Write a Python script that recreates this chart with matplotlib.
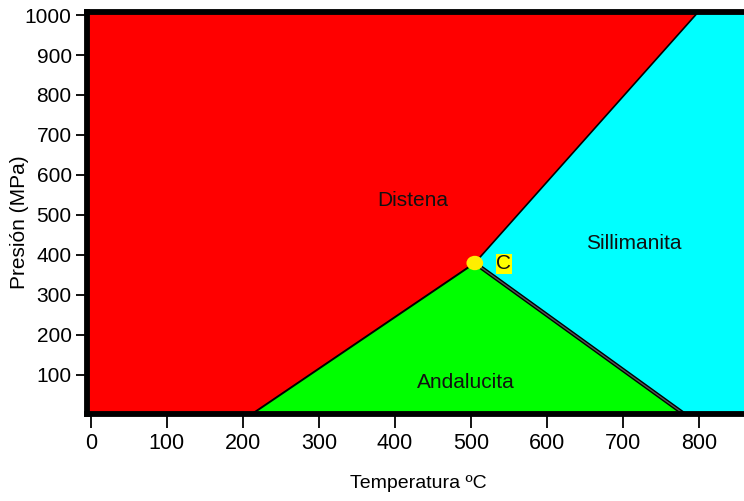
import matplotlib
matplotlib.use('Agg')
import matplotlib.pyplot as plt
from matplotlib.patches import Polygon, Ellipse

plt.rcParams['font.family'] = ['Liberation Sans', 'DejaVu Sans']

# Data (temperature in ºC, pressure in MPa)
triple_point = (505, 380)
distena_andalucita_end = (210, 0)
distena_sillimanita_end = (800, 1010)
andalucita_sillimanita_end = (782, 0)
x_ticks = [0, 100, 200, 300, 400, 500, 600, 700, 800]
y_ticks = [100, 200, 300, 400, 500, 600, 700, 800, 900, 1000]
phase_labels = ['Distena', 'Sillimanita', 'Andalucita']
phase_label_pos = [(424, 537), (714, 428), (493, 82)]
point_label = 'C'
point_label_pos = (543, 378)

W, H = 744, 501
fig = plt.figure(figsize=(W / 100, H / 100), dpi=100)
ax = fig.add_axes([87 / W, (H - 414) / H, 1 - 87 / W, (414 - 12) / H])
xmin, xmax = -5, 859
ymin, ymax = 2.5, 1007.5
ax.set_xlim(xmin, xmax)
ax.set_ylim(ymin, ymax)

lo, hi = -50, 1100
tp = triple_point
da = distena_andalucita_end
ds = distena_sillimanita_end
asl = andalucita_sillimanita_end

red = Polygon([(-50, lo), (da[0], lo), da, tp, ds, (ds[0], hi), (-50, hi)],
              closed=True, facecolor='#ff0000', edgecolor='none', zorder=1)
green = Polygon([(da[0] - 5, lo), da, tp, asl, (asl[0] + 5, lo)], closed=True,
                facecolor='#00ff00', edgecolor='none', zorder=1)
cyan = Polygon([tp, ds, (1000, hi), (1000, lo), (asl[0] + 5, lo), asl], closed=True,
               facecolor='#00ffff', edgecolor='none', zorder=1)
for p in (red, green, cyan):
    ax.add_patch(p)

ax.plot([da[0], tp[0]], [da[1], tp[1]], color='black', lw=1.4, zorder=2)
ax.plot([tp[0], ds[0]], [tp[1], ds[1]], color='black', lw=1.2, zorder=2)
ax.plot([tp[0], asl[0]], [tp[1], asl[1]], color='black', lw=3.0, zorder=2, solid_capstyle='butt')
ax.plot([tp[0], asl[0]], [tp[1], asl[1]], color='#555555', lw=1.0, zorder=2, solid_capstyle='butt')

ax.add_patch(Ellipse(tp, width=22, height=36, facecolor='#ffee00', edgecolor='none', zorder=3))

for lab, (x, y) in zip(phase_labels, phase_label_pos):
    ax.text(x, y, lab, fontsize=15, ha='center', va='center', color='#111111', zorder=4)
ax.text(point_label_pos[0], point_label_pos[1], point_label, fontsize=15, ha='center', va='center',
        color='#111111', zorder=4,
        bbox=dict(facecolor='#ffff00', edgecolor='none', pad=0.5))

for s in ('left', 'top', 'bottom'):
    ax.spines[s].set_linewidth(4.2)
    ax.spines[s].set_color('black')
ax.spines['right'].set_visible(False)

ax.set_xticks(x_ticks)
ax.set_xticklabels([str(v) for v in x_ticks])
ax.set_yticks(y_ticks)
ax.set_yticklabels([str(v) for v in y_ticks])
ax.tick_params(axis='x', direction='out', length=10, width=1.3, pad=4, labelsize=15.5, colors='black')
ax.tick_params(axis='y', direction='out', length=8, width=1.3, pad=3, labelsize=15, colors='black')

fig.text(418 / W, 1 - 483 / H, 'Temperatura ºC', fontsize=14, ha='center', va='center')
fig.text(20 / W, 1 - 222 / H, 'Presión (MPa)', fontsize=15, ha='center', va='center', rotation=90)

fig.savefig('out.png', dpi=100)
